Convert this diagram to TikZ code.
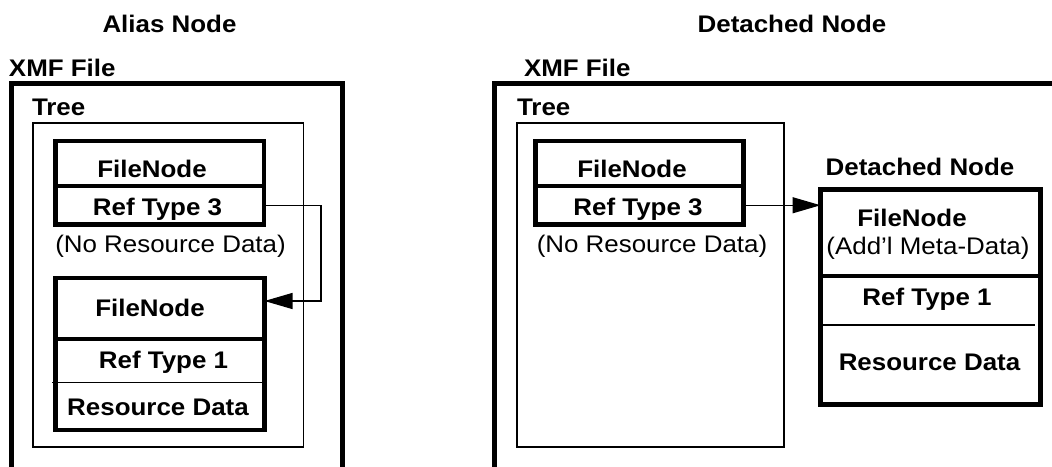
\documentclass[tikz,border=0pt]{standalone}
\usepackage{fontspec}
\setmainfont[FakeStretch=1.08]{Liberation Sans}
\usetikzlibrary{arrows.meta}
\begin{document}
\begin{tikzpicture}[x=1pt,y=-1pt,
  every node/.style={inner sep=0pt, outer sep=0pt},
  txt/.style={anchor=base, font=\fontsize{24}{28}\selectfont},
  btxt/.style={anchor=base, font=\fontsize{24}{28}\selectfont\bfseries},
  frame/.style={line width=5pt},
  treebox/.style={draw, line width=1.2pt},
  cell/.style={draw, line width=4.5pt},
  rule/.style={line width=1.2pt},
  link/.style={line width=1.2pt, -{Triangle[length=28pt,width=16pt]}}]
\useasboundingbox (0,0) rectangle (1052,466);
\clip (0,0) rectangle (1052,466);

% ---------- titles ----------
\node[btxt] (tAlias) at (169.5,32) {Alias Node};
\node[btxt] (tDet)   at (792,32)   {Detached Node};

% ---------- left: alias node ----------
\node[btxt, anchor=base west] (xmfL) at (9,76) {XMF File};
\draw[frame] (11,480) -- (11,83) -- (342.5,83) -- (342.5,480);
\node[btxt, anchor=base west] (treeL) at (32,115.5) {Tree};
\node[treebox, minimum width=270.5pt, minimum height=324pt] (lTree) at (168.25,285) {};

\node[cell, minimum width=208.5pt, minimum height=45pt]   (aFile) at (159.75,163.5)  {};
\node[cell, minimum width=208.5pt, minimum height=38.5pt] (aRef)  at (159.75,205.25) {};
\node[btxt] (aFileT) at (152,177)   {FileNode};
\node[btxt] (aRefT)  at (157.5,215) {Ref Type 3};
\node[txt]  (aNoRes) at (170.5,252.5) {(No Resource Data)};

\node[cell, minimum width=209pt, minimum height=61pt] (bFile) at (160,308.5) {};
\node[cell, minimum width=209pt, minimum height=91pt] (bData) at (160,384.5) {};
\draw[rule] (52,382.5) -- (262,382.5);
\node[btxt] (bFileT) at (150,316)   {FileNode};
\node[btxt] (bRefT)  at (163.5,368) {Ref Type 1};
\node[btxt] (bResT)  at (158,415)   {Resource Data};

\coordinate (aIn) at (264.5,301);
\draw[link] (aRef.east) -- ++(57,0) |- (aIn);

% ---------- right: detached node ----------
\node[btxt, anchor=base west] (xmfR) at (524,76) {XMF File};
\draw[frame] (494,480) -- (494,83) -- (1070,83);
\node[btxt, anchor=base west] (treeR) at (517,115.5) {Tree};
\node[treebox, minimum width=267pt, minimum height=324pt] (rTree) at (650.5,285) {};

\node[cell, minimum width=208pt, minimum height=45pt]   (rFile) at (639.5,163.5)  {};
\node[cell, minimum width=208pt, minimum height=38.5pt] (rRef)  at (639.5,205.25) {};
\node[btxt] (rFileT) at (632,177)   {FileNode};
\node[btxt] (rRefT)  at (638,215)   {Ref Type 3};
\node[txt]  (rNoRes) at (652,252.5) {(No Resource Data)};

\node[btxt] (dLabel) at (920,175) {Detached Node};
\node[cell, minimum width=220pt, minimum height=86.5pt]  (dTop) at (930.5,232.75) {};
\node[cell, minimum width=220pt, minimum height=128.5pt] (dBot) at (930.5,340.25) {};
\draw[rule] (823,325) -- (1035,325);
\node[btxt] (dFileT) at (912,226)   {FileNode};
\node[txt]  (dMeta)  at (928,254.5) {(Add’l Meta-Data)};
\node[btxt] (dRefT)  at (927,305)   {Ref Type 1};
\node[btxt] (dResT)  at (929.5,370) {Resource Data};

\draw[link] (rRef.east) -- (rRef.east -| dTop.west);
\end{tikzpicture}
\end{document}
